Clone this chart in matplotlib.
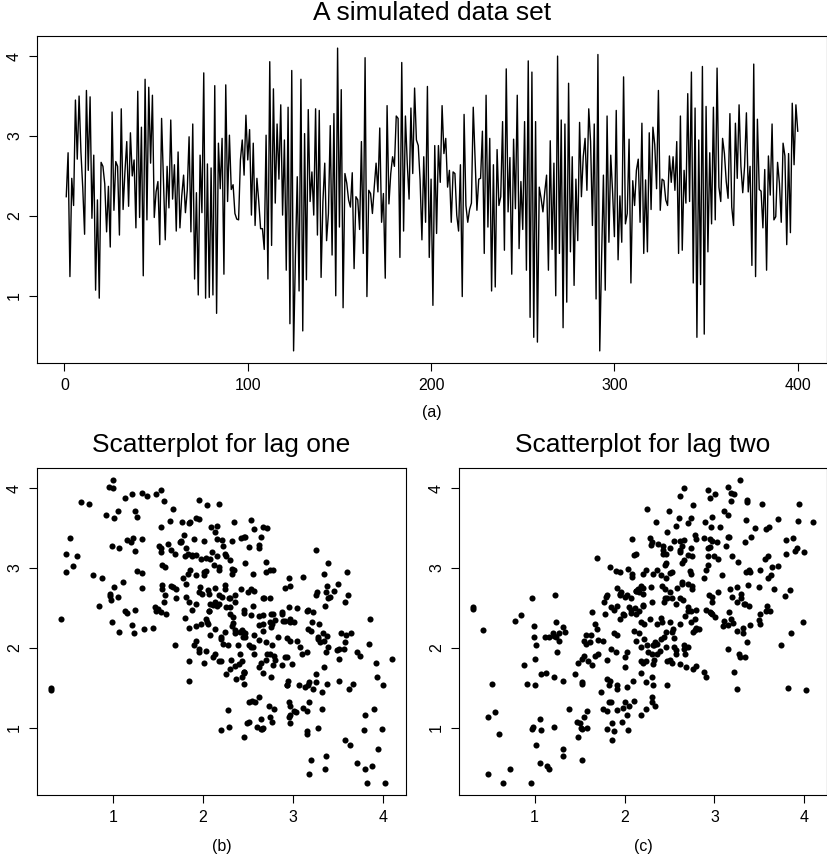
import matplotlib.pyplot as plt
import numpy as np

plt.rcParams['font.family'] = ['Liberation Sans', 'DejaVu Sans']

# simulated series, in chunks of the time axis
part_1 = [2.24, 2.79, 1.24, 2.47, 2.13, 3.45, 2.71, 3.5, 2.8, 2.35, 1.77, 3.57, 2.57,
          3.49, 1.97, 2.76, 1.07, 2.2, 0.97, 2.67, 2.62, 2.4, 1.8, 2.37, 1.61, 3.3]
part_2 = [2.07, 2.68, 2.62, 1.76, 3.34, 2.08, 2.55, 2.93, 2.12, 3.04, 2.5, 2.7, 1.85,
          3.56, 1.98, 3.11, 1.25, 3.71, 1.95, 3.61, 2.66, 3.51, 1.98, 2.3, 2.43, 1.64,
          3.22, 2.45, 1.7, 2.62, 2.1, 3.2, 2.21, 2.64, 1.81, 2.8, 1.85, 2.25, 2.51, 2.04,
          2.32, 2.99, 1.8, 3.15, 1.21, 2.29]
part_3 = [1.01, 2.76, 2.04, 3.79, 0.97, 2.65, 0.98, 2.6, 1.01, 3.63, 0.78, 2.91, 2.34,
          2.97, 1.27, 3.64, 2.18, 3.01, 2.33, 2.39, 2.03, 1.96, 1.95, 2.7, 2.95, 2.51,
          3.26, 2.7, 3.08, 2.01, 2.91, 1.88, 2.47, 2.18, 1.84, 1.84, 1.58, 3.01, 1.21,
          3.93, 1.63, 3.59]
part_4 = [2.16, 3.15, 2.46, 3.39, 2.01, 2.95, 1.32, 3.36, 0.65, 3.82, 0.31, 1.5, 2.49,
          1.06, 3.71, 0.56, 3.03, 1.2, 3.33, 2.18, 2.55, 2.01, 3.34, 1.76, 3.32, 1.23,
          2.18, 2.66, 1.69, 2.03, 3.13, 1.51, 3.28, 1.0, 4.1, 1.86, 3.58, 0.85, 2.53,
          2.41, 2.2, 2.11]
part_5 = [2.54, 1.34, 2.24, 2.2, 1.83, 2.93, 1.53, 3.98, 0.99, 2.32, 2.28, 2.03, 2.36,
          2.66, 2.3, 3.1, 1.92, 2.28, 1.22, 3.38, 2.15, 2.53, 2.74, 2.62, 3.25, 3.22,
          1.48, 3.92, 1.81, 3.25, 2.66, 2.21, 3.35, 2.53, 3.6, 2.95, 2.88, 2.45, 1.7,
          2.74, 1.92, 3.62, 1.48]
part_6 = [2.46, 0.88, 2.88, 1.78, 2.88, 2.42, 3.38, 2.78, 2.97, 2.36, 2.57, 1.92, 2.55,
          2.53, 2.01, 1.81, 2.64, 0.99, 3.27, 2.13, 1.92, 2.08, 2.16, 3.36, 2.7, 2.07,
          2.46, 2.47, 3.06, 1.53, 3.51, 1.86, 2.97, 1.06, 2.64, 1.11, 2.83, 2.13, 2.24,
          3.18, 1.57, 3.84, 2.05]
part_7 = [2.73, 1.27, 2.96, 2.09, 3.51, 1.59, 2.43, 1.83, 3.18, 1.32, 3.94, 0.73, 3.8,
          0.48, 3.18, 0.42, 2.36, 2.22, 2.05, 2.3, 2.51, 1.32, 2.94, 1.58, 2.66, 1.0,
          4.0, 1.53, 3.2, 0.6, 3.15, 0.92, 3.66, 1.55, 2.74, 1.13, 2.46, 1.69, 3.17,
          2.24, 2.74, 2.97]
part_8 = [2.32, 3.34, 2.93, 1.88, 3.15, 0.96, 4.02, 0.31, 1.47, 2.51, 1.07, 3.25, 1.67,
          2.76, 2.3, 1.74, 3.32, 1.45, 2.25, 1.67, 3.74, 1.9, 2.03, 2.96, 1.16, 2.44,
          2.13, 2.57, 2.71, 1.92, 3.16, 1.53, 2.45, 1.55, 3.04, 2.08, 3.11, 2.89, 2.34,
          3.57, 2.07, 2.46]
part_9 = [2.44, 2.2, 2.13, 2.75, 2.42, 2.74, 2.32, 2.93, 1.53, 3.25, 1.57, 2.57, 2.16,
          3.53, 2.18, 3.8, 1.16, 3.35, 0.48, 2.95, 1.14, 3.87, 0.52, 3.37, 1.55, 2.79,
          1.9, 3.36, 1.95, 3.85, 2.36, 2.18, 2.97, 2.78, 2.43, 2.22, 3.28, 2.11, 1.88,
          3.16, 2.47, 3.39]
part_10 = [2.62, 2.29, 2.62, 3.29, 2.3, 2.62, 1.38, 3.9, 1.24, 3.21, 2.33, 2.31, 1.85,
           2.58, 1.32, 2.75, 2.26, 3.15, 1.95, 1.99, 2.67, 2.41, 1.92, 2.91, 2.75, 1.64,
           2.78, 1.79, 3.41, 2.64, 3.39, 3.06]

x = np.array(part_1 + part_2 + part_3 + part_4 + part_5 + part_6 + part_7 + part_8
             + part_9 + part_10)
t = np.arange(1, len(x) + 1)

W, H = 828, 860
fig = plt.figure(figsize=(W / 100, H / 100), dpi=100)


def box(l, r, top, bot):
    return [l / W, 1 - bot / H, (r - l) / W, (bot - top) / H]


ax1 = fig.add_axes(box(37, 827, 36, 363))
ax2 = fig.add_axes(box(37, 406, 468, 795))
ax3 = fig.add_axes(box(459, 827, 468, 795))

ax1.plot(t, x, color='black', linewidth=1.0)
ax1.set_xticks([0, 100, 200, 300, 400])

ax2.plot(x[:-1], x[1:], 'o', color='black', markersize=4.4, markeredgewidth=0)
ax3.plot(x[:-2], x[2:], 'o', color='black', markersize=4.4, markeredgewidth=0)

for ax in (ax1, ax2, ax3):
    ax.margins(x=0.04, y=0.04)
    ax.set_yticks([1, 2, 3, 4])
    for s in ax.spines.values():
        s.set_linewidth(0.8)
    ax.tick_params(direction='out', length=5.8, width=0.8, labelsize=11.5, pad=5)
    ax.tick_params(axis='y', labelrotation=90)
    for lab in ax.get_yticklabels():
        lab.set_va('center')
for ax in (ax2, ax3):
    ax.set_xticks([1, 2, 3, 4])

fig.text(432 / W, 1 - 13 / H, 'A simulated data set', ha='center', va='center', fontsize=19)
fig.text(221.5 / W, 1 - 445 / H, 'Scatterplot for lag one', ha='center', va='center', fontsize=19)
fig.text(643 / W, 1 - 445 / H, 'Scatterplot for lag two', ha='center', va='center', fontsize=19)
fig.text(432 / W, 1 - 413 / H, '(a)', ha='center', va='center', fontsize=11.5)
fig.text(221.5 / W, 1 - 847 / H, '(b)', ha='center', va='center', fontsize=11.5)
fig.text(643 / W, 1 - 847 / H, '(c)', ha='center', va='center', fontsize=11.5)

fig.savefig('out.png', dpi=100)
